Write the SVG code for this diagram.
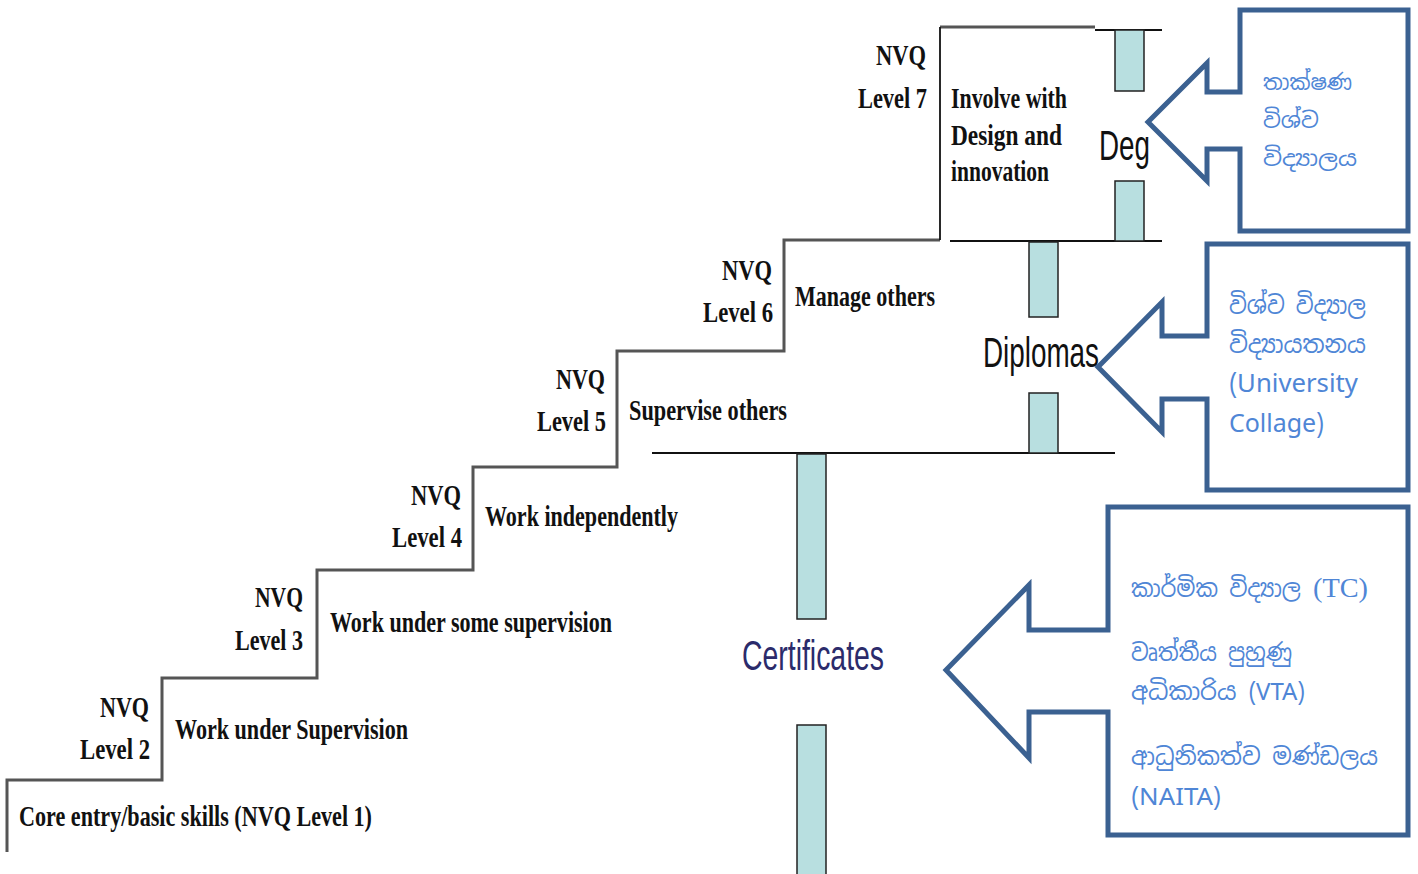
<svg xmlns="http://www.w3.org/2000/svg" width="1418" height="874" viewBox="0 0 1418 874">
<style>
.stair{fill:none;stroke:#555;stroke-width:3}
.blk{fill:none;stroke:#111;stroke-width:1.8}
.bar{fill:#b8dfe0;stroke:#222;stroke-width:1.5}
.st{font-family:"Liberation Serif","Times New Roman",serif;font-weight:bold;font-size:30px;fill:#111}
.lbl{font-family:"Liberation Sans",Arial,sans-serif;font-size:42px;fill:#111}
.call{fill:#fff;stroke:#3b6191;stroke-width:5;stroke-linejoin:miter}
.si{font-family:"Noto Sans Sinhala","Noto Serif Sinhala","Iskoola Pota","Open Sans","Noto Sans",sans-serif;fill:#4f86d6}
.tc{font-family:"Liberation Serif","Times New Roman",serif;fill:#4f86d6}
</style>
<rect width="1418" height="874" fill="#fff"/>
<g id="stairs">
<path class="stair" d="M7,852 V780 H162 V678 H317 V570 H473 V467 H617 V351 H784 V240 H940"/>
<path class="stair" d="M940,27 H1095"/>
<path class="blk" d="M940,240 V27"/>
</g>
<g id="connectors">
<path class="blk" d="M1095,30 H1162"/>
<path class="blk" d="M950,241 H1162"/>
<path class="blk" d="M652,453 H1115"/>
</g>
<g id="level1"><text class="st" x="19" y="826" textLength="353" lengthAdjust="spacingAndGlyphs">Core entry/basic skills  (NVQ Level 1)</text></g>
<g id="level2">
<text class="st" x="100" y="717" textLength="49" lengthAdjust="spacingAndGlyphs">NVQ</text>
<text class="st" x="80" y="759" textLength="70" lengthAdjust="spacingAndGlyphs">Level 2</text>
<text class="st" x="175" y="739" textLength="233" lengthAdjust="spacingAndGlyphs">Work under Supervision</text>
</g>
<g id="level3">
<text class="st" x="255" y="607" textLength="48" lengthAdjust="spacingAndGlyphs">NVQ</text>
<text class="st" x="235" y="650" textLength="68" lengthAdjust="spacingAndGlyphs">Level 3</text>
<text class="st" x="330" y="632" textLength="282" lengthAdjust="spacingAndGlyphs">Work under some supervision</text>
</g>
<g id="level4">
<text class="st" x="411" y="505" textLength="50" lengthAdjust="spacingAndGlyphs">NVQ</text>
<text class="st" x="392" y="547" textLength="70" lengthAdjust="spacingAndGlyphs">Level 4</text>
<text class="st" x="485" y="526" textLength="193" lengthAdjust="spacingAndGlyphs">Work independently</text>
</g>
<g id="level5">
<text class="st" x="556" y="389" textLength="49" lengthAdjust="spacingAndGlyphs">NVQ</text>
<text class="st" x="537" y="431" textLength="69" lengthAdjust="spacingAndGlyphs">Level 5</text>
<text class="st" x="629" y="420" textLength="158" lengthAdjust="spacingAndGlyphs">Supervise others</text>
</g>
<g id="level6">
<text class="st" x="722" y="280" textLength="50" lengthAdjust="spacingAndGlyphs">NVQ</text>
<text class="st" x="703" y="322" textLength="70" lengthAdjust="spacingAndGlyphs">Level 6</text>
<text class="st" x="795" y="306" textLength="140" lengthAdjust="spacingAndGlyphs">Manage others</text>
</g>
<g id="level7">
<text class="st" x="876" y="65" textLength="50" lengthAdjust="spacingAndGlyphs">NVQ</text>
<text class="st" x="858" y="108" textLength="69" lengthAdjust="spacingAndGlyphs">Level 7</text>
<text class="st" x="951" y="108" textLength="116" lengthAdjust="spacingAndGlyphs">Involve with</text>
<text class="st" x="951" y="145" textLength="111" lengthAdjust="spacingAndGlyphs">Design  and</text>
<text class="st" x="951" y="181" textLength="98" lengthAdjust="spacingAndGlyphs">innovation</text>
</g>
<g id="degree">
<rect class="bar" x="1115" y="30" width="29" height="61"/>
<rect class="bar" x="1115" y="181" width="29" height="60"/>
<text class="lbl" x="1099" y="160" textLength="51" lengthAdjust="spacingAndGlyphs">Deg</text>
</g>
<g id="diplomas">
<rect class="bar" x="1029" y="242" width="29" height="75"/>
<rect class="bar" x="1029" y="393" width="29" height="60"/>
<text class="lbl" x="983" y="367" textLength="116" lengthAdjust="spacingAndGlyphs">Diplomas</text>
</g>
<g id="certificates">
<rect class="bar" x="797" y="454" width="29" height="165"/>
<rect class="bar" x="797" y="725" width="29" height="152"/>
<text class="lbl" x="742" y="670" textLength="142" lengthAdjust="spacingAndGlyphs" style="fill:#2b2b6b">Certificates</text>
</g>
<g id="callout-university">
<path class="call" d="M1240,10 H1408 V231 H1240 V149 H1207 V181 L1148,122 L1207,63 V92 H1240 Z"/>
<text class="si" font-size="22" x="1263" y="90" textLength="89" lengthAdjust="spacingAndGlyphs">තාක්ෂණ</text>
<text class="si" font-size="22" x="1263" y="128">විශ්ව</text>
<text class="si" font-size="22" x="1263" y="166" textLength="94" lengthAdjust="spacingAndGlyphs">විද්‍යාලය</text>
</g>
<g id="callout-univcollege">
<path class="call" d="M1207,244 H1408 V490 H1207 V399 H1162 V432 L1098,367 L1162,302 V336 H1207 Z"/>
<text class="si" font-size="25" x="1229" y="314" textLength="137" lengthAdjust="spacingAndGlyphs">විශ්ව විද්‍යාල</text>
<text class="si" font-size="25" x="1229" y="353" textLength="137" lengthAdjust="spacingAndGlyphs">විද්‍යායතනය</text>
<text class="si" font-size="26" x="1229" y="392" textLength="129" lengthAdjust="spacingAndGlyphs">(University</text>
<text class="si" font-size="26" x="1229" y="432" textLength="95" lengthAdjust="spacingAndGlyphs">Collage)</text>
</g>
<g id="callout-tc">
<path class="call" d="M1108,507 H1408 V835 H1108 V712 H1029 V758 L946,670 L1029,585 V630 H1108 Z"/>
<text class="si" font-size="24" x="1131" y="597" textLength="170" lengthAdjust="spacingAndGlyphs">කාර්මික විද්‍යාල</text>
<text class="tc" font-size="28" x="1313" y="597" textLength="55" lengthAdjust="spacingAndGlyphs">(TC)</text>
<text class="si" font-size="24" x="1131" y="661" textLength="161" lengthAdjust="spacingAndGlyphs">වෘත්තීය පුහුණු</text>
<text class="si" font-size="24" x="1131" y="700" textLength="174" lengthAdjust="spacingAndGlyphs">අධිකාරිය (VTA)</text>
<text class="si" font-size="24" x="1131" y="765" textLength="247" lengthAdjust="spacingAndGlyphs">ආධුනිකත්ව මණ්ඩලය</text>
<text class="si" font-size="24" x="1131" y="805" textLength="90" lengthAdjust="spacingAndGlyphs">(NAITA)</text>
</g>
</svg>
